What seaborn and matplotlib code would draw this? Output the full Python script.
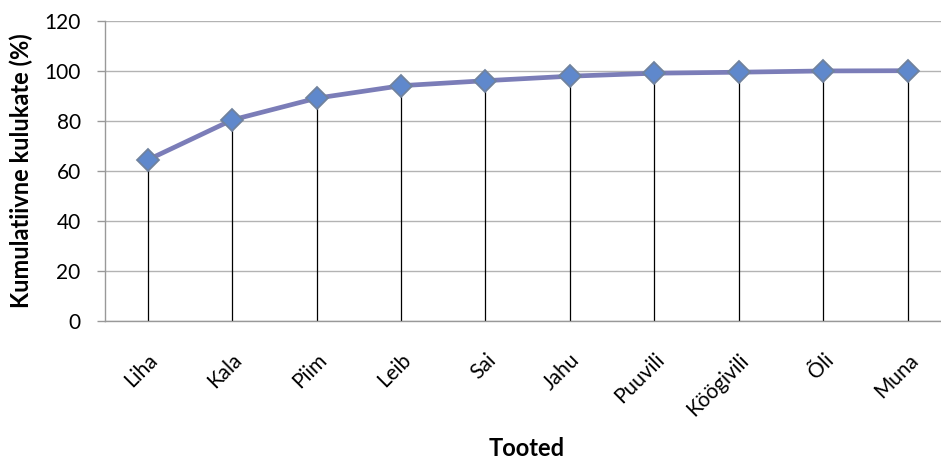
import matplotlib
matplotlib.use("Agg")
import matplotlib.pyplot as plt
import seaborn as sns
import pandas as pd

# Cumulative spending share by product
tooted = ["Liha", "Kala", "Piim", "Leib", "Sai", "Jahu", "Puuvili", "Köögivili", "Õli", "Muna"]
kumulatiivne = [64.3, 80.3, 89.0, 94.0, 96.0, 97.8, 99.0, 99.4, 99.9, 100.0]
y_ticks = [0, 20, 40, 60, 80, 100, 120]

df = pd.DataFrame({"Tooted": tooted, "Kumulatiivne": kumulatiivne})

sns.set_theme(style="white")
plt.rcParams["font.family"] = ["Lato", "DejaVu Sans"]

fig = plt.figure(figsize=(9.41, 4.61), dpi=100)
ax = fig.add_axes([105.4 / 941, 140.3 / 461, (950 - 105.4) / 941, 300 / 461])

x_pos = list(range(len(tooted)))

# drop lines from each point down to the axis
ax.vlines(x_pos, 0, df["Kumulatiivne"], colors="black", linewidth=0.9, zorder=2)

sns.lineplot(data=df, x="Tooted", y="Kumulatiivne", ax=ax, sort=False,
             color="#7b7db8", linewidth=3.4, marker="D", markersize=11.5,
             markerfacecolor="#5f88cc", markeredgecolor="#70829e",
             markeredgewidth=1.3, zorder=3)

ax.set_xlim(-0.5, len(tooted) - 0.5)
ax.set_ylim(0, 120)
ax.set_yticks(y_ticks)
ax.set_yticklabels([str(v) for v in y_ticks], fontsize=15)
ax.set_xticks(x_pos)
ax.set_xticklabels(tooted, rotation=45, ha="right", va="top",
                   rotation_mode="anchor", fontsize=15)

ax.grid(axis="y", color="#b3b3b3", linewidth=1.0)
ax.set_axisbelow(True)
for side in ["top", "right"]:
    ax.spines[side].set_visible(False)
for side in ["left", "bottom"]:
    ax.spines[side].set_color("#999999")
    ax.spines[side].set_linewidth(1.0)

ax.tick_params(axis="y", which="major", left=True, length=5.8, width=1.0,
               color="#999999", pad=12, labelcolor="black")
ax.tick_params(axis="x", length=0, pad=21, labelcolor="black")

ax.set_ylabel("Kumulatiivne kulukate (%)", fontsize=17, fontweight="bold",
              color="black")
ax.yaxis.set_label_coords((33 - 105.4) / (950 - 105.4), 0.5)
ax.set_xlabel("Tooted", fontsize=17, fontweight="bold", color="black")
ax.xaxis.set_label_coords((527 - 105.4) / (950 - 105.4), -(437 - 320.7) / 300)

fig.savefig("out.png", dpi=100)
